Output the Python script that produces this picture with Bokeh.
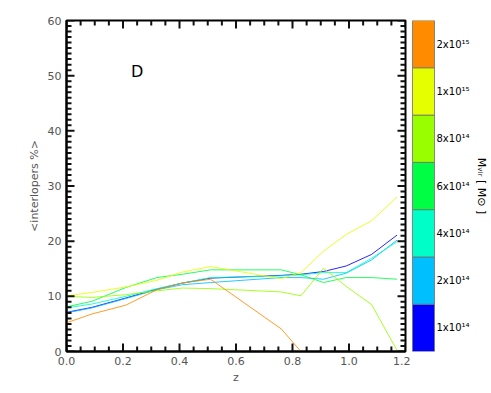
from bokeh.plotting import figure
from bokeh.layouts import row
from bokeh.models import Range1d, FixedTicker, ColumnDataSource, PrintfTickFormatter
from bokeh.core.properties import value
from bokeh.embed import file_html
from bokeh.resources import INLINE

# ---- data ----
z = [0.0, 0.09, 0.21, 0.32, 0.41, 0.51, 0.76, 0.83, 0.91, 0.99, 1.08, 1.17]
m1e14 = [7.1, 8.0, 9.7, 11.3, 12.4, 13.3, 13.8, 14.0, 14.5, 15.5, 17.6, 21.1]
m2e14 = [7.0, 7.9, 9.6, 11.2, 12.1, 12.5, 13.4, 13.4, 13.1, 14.2, 16.6, 20.2]
m4e14 = [7.9, 8.6, 10.0, 11.4, 12.4, 13.4, 13.7, 13.9, 14.3, 14.3, 16.9, 19.9]
m6e14 = [8.1, 9.1, 11.6, 13.4, 14.0, 14.8, 14.8, 13.9, 12.5, 13.4, 13.4, 13.1]
m8e14 = [10.0, 9.8, 10.3, 11.0, 11.5, 11.4, 10.8, 10.1, 15.1, 11.8, 8.5, 0.2]
m1e15 = [10.1, 10.7, 11.7, 12.9, 14.4, 15.4, 13.2, 14.3, 18.2, 21.2, 23.7, 28.0]
m2e15 = [5.2, 6.8, 8.4, 11.2, 12.4, 13.1, 4.1, 0.0, 0.0, 0.0, 0.0, 0.0]

series = [m1e14, m2e14, m4e14, m6e14, m8e14, m1e15, m2e15]
colors = ["#0000FF", "#00BFFF", "#00FFC8", "#00FF44", "#99FF00", "#E6FF00", "#FF8C00"]
cbar_labels = ["1x10\u00b9\u2074", "2x10\u00b9\u2074", "4x10\u00b9\u2074", "6x10\u00b9\u2074",
               "8x10\u00b9\u2074", "1x10\u00b9\u2075", "2x10\u00b9\u2075"]
cbar_title = "M\u1d65\u1d62\u1d63 [ M\u2299 ]"
panel_label = "D"
x_major = [0.0, 0.2, 0.4, 0.6, 0.8, 1.0, 1.2]
y_major = [0, 10, 20, 30, 40, 50, 60]

x_minor = [round(i * 0.05, 2) for i in range(25) if i % 4 != 0]
y_minor = [float(i) for i in range(61) if i % 10 != 0]

FONT = "DejaVu Sans"
TXT = "#555555"
X0, X1, Y0, Y1 = 0.0, 1.2, 0.0, 60.0

# ---- main plot ----
p = figure(width=410, height=392, output_backend="svg", toolbar_location=None,
           x_range=Range1d(X0, X1), y_range=Range1d(Y0, Y1),
           min_border_left=66, min_border_right=5, min_border_top=19, min_border_bottom=40)
p.xgrid.visible = False
p.ygrid.visible = False
p.outline_line_color = "black"
p.outline_line_width = 2
p.background_fill_color = "white"
p.border_fill_color = "white"

for s, c in zip(series, colors):
    p.line(z, s, line_color=c, line_width=1, line_alpha=0.85)

p.text(x=[0.25], y=[50.8], text=[panel_label], text_font=value(FONT), text_font_size="16px",
       text_color="black", text_align="center", text_baseline="middle")

# inward tick marks on all four sides (lengths: 8 px major, 5 px minor)
fw, fh = 339.0, 333.0
def ylen(px):
    return px * (Y1 - Y0) / fh
def xlen(px):
    return px * (X1 - X0) / fw

for ticks, L in [(x_major, 8), (x_minor, 5)]:
    k = len(ticks)
    p.segment(x0=ticks, y0=[Y0] * k, x1=ticks, y1=[Y0 + ylen(L)] * k,
              line_color="#111111", line_width=2)
    p.segment(x0=ticks, y0=[Y1] * k, x1=ticks, y1=[Y1 - ylen(L)] * k,
              line_color="#111111", line_width=2)
for ticks, L in [(y_major, 8), (y_minor, 5)]:
    k = len(ticks)
    p.segment(x0=[X0] * k, y0=ticks, x1=[X0 + xlen(L)] * k, y1=ticks,
              line_color="#111111", line_width=2)
    p.segment(x0=[X1] * k, y0=ticks, x1=[X1 - xlen(L)] * k, y1=ticks,
              line_color="#111111", line_width=2)

p.xaxis[0].ticker = FixedTicker(ticks=x_major, minor_ticks=[])
p.xaxis[0].formatter = PrintfTickFormatter(format="%.1f")
p.xaxis[0].axis_label = "z"
p.yaxis[0].ticker = FixedTicker(ticks=y_major, minor_ticks=[])
p.yaxis[0].axis_label = "<interlopers %>"

for ax in [p.xaxis[0], p.yaxis[0]]:
    ax.major_tick_in = 0
    ax.major_tick_out = 0
    ax.minor_tick_in = 0
    ax.minor_tick_out = 0
    ax.axis_line_color = "black"
    ax.axis_line_width = 2
    ax.major_label_text_font = FONT
    ax.major_label_text_font_size = "11px"
    ax.major_label_text_color = TXT
    ax.axis_label_text_font = FONT
    ax.axis_label_text_font_size = "11px"
    ax.axis_label_text_font_style = "normal"
    ax.axis_label_text_color = TXT

p.xaxis[0].major_label_standoff = 5
p.xaxis[0].axis_label_standoff = 3
p.yaxis[0].major_label_standoff = 5
p.yaxis[0].axis_label_standoff = 4

# ---- colorbar ----
n = len(colors)
cb = figure(width=81, height=392, output_backend="svg", toolbar_location=None,
            x_range=Range1d(410, 491), y_range=Range1d(0, n),
            x_axis_location=None, y_axis_location=None,
            min_border_left=0, min_border_right=0, min_border_top=20, min_border_bottom=41)
cb.xgrid.visible = False
cb.ygrid.visible = False
cb.outline_line_color = None
cb.background_fill_color = "white"
cb.border_fill_color = "white"

idx = list(range(n))
src = ColumnDataSource(dict(bottom=idx, top=[i + 1 for i in idx], color=colors,
                            label=cbar_labels, mid=[i + 0.5 for i in idx]))
cb.quad(left=412, right=434, bottom="bottom", top="top", fill_color="color",
        line_color="#707070", line_width=0.8, source=src)
cb.text(x=436, y="mid", text="label", source=src, text_font=value(FONT), text_font_size="10px",
        text_color="black", text_align="left", text_baseline="middle")
cb.text(x=[481], y=[n / 2], text=[cbar_title], angle=-1.5708,
        text_font=value(FONT), text_font_size="11px", text_color="black",
        text_align="center", text_baseline="middle")

layout = row(p, cb, spacing=0)
open("out.html", "w").write(file_html(layout, INLINE))
